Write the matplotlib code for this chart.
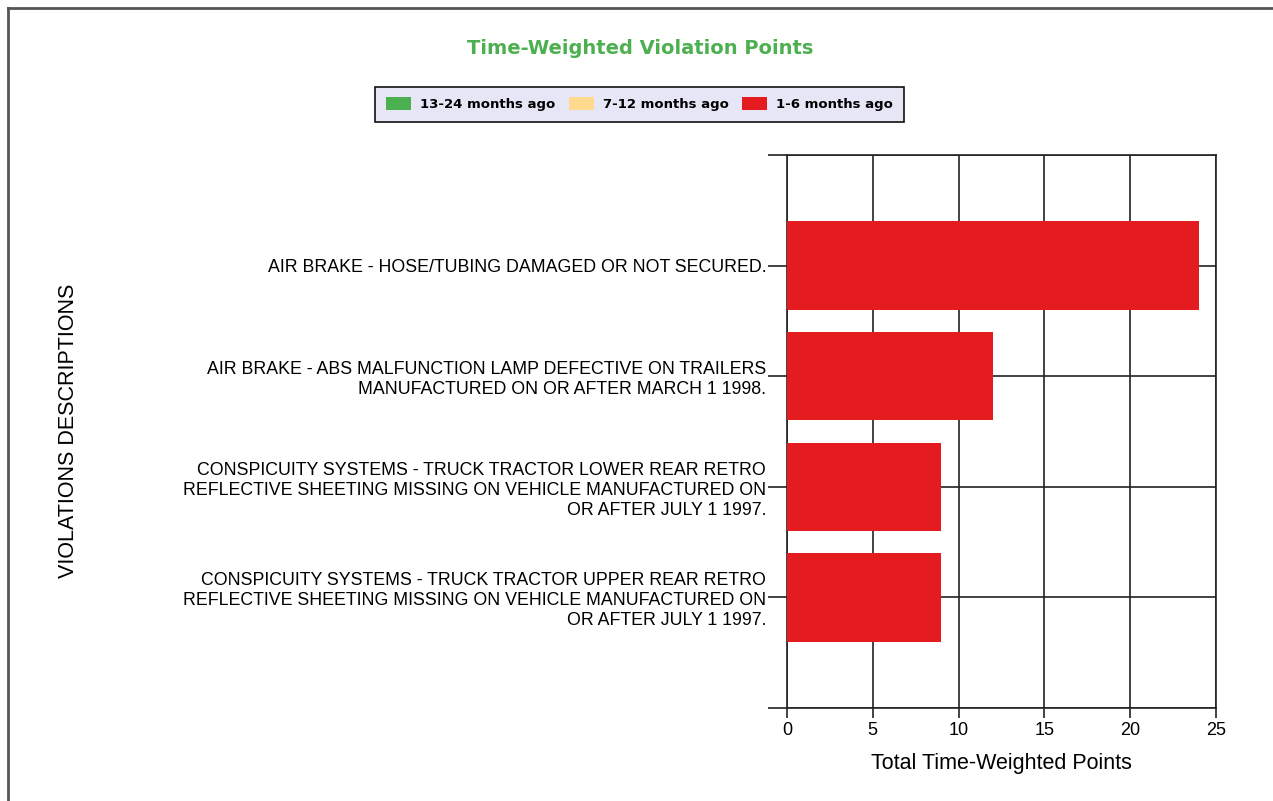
import matplotlib.pyplot as plt
import numpy as np
from matplotlib.lines import Line2D

# violation descriptions, top to bottom
labels = [
    "AIR BRAKE - HOSE/TUBING DAMAGED OR NOT SECURED.",
    "AIR BRAKE - ABS MALFUNCTION LAMP DEFECTIVE ON TRAILERS\nMANUFACTURED ON OR AFTER MARCH 1 1998.",
    "CONSPICUITY SYSTEMS - TRUCK TRACTOR LOWER REAR RETRO\nREFLECTIVE SHEETING MISSING ON VEHICLE MANUFACTURED ON\nOR AFTER JULY 1 1997.",
    "CONSPICUITY SYSTEMS - TRUCK TRACTOR UPPER REAR RETRO\nREFLECTIVE SHEETING MISSING ON VEHICLE MANUFACTURED ON\nOR AFTER JULY 1 1997.",
]
series_names = ["13-24 months ago", "7-12 months ago", "1-6 months ago"]
pts_13_24 = [0, 0, 0, 0]
pts_7_12 = [0, 0, 0, 0]
pts_1_6 = [24, 12, 9, 9]
colors = ["#4caf50", "#ffd98e", "#e51c1f"]

xticks = [0, 5, 10, 15, 20, 25]

fig = plt.figure(figsize=(12.73, 8.01), dpi=100)
ax = fig.add_axes([0.6182, 0.1161, 0.3370, 0.6904])

y = np.arange(len(labels))
left = np.zeros(len(labels))
for name, vals, c in zip(series_names, [pts_13_24, pts_7_12, pts_1_6], colors):
    vals = np.array(vals, dtype=float)
    ax.barh(y, vals, left=left, height=0.8, color=c, label=name, zorder=3)
    left += vals

ax.set_ylim(len(labels), -1)
ax.set_xlim(0, 25)
ax.set_xticks(xticks)
ax.set_xticklabels([str(t) for t in xticks], fontsize=13, family="Liberation Sans")
ax.set_yticks(np.arange(-1, len(labels) + 1))
ax.set_yticklabels([""] + labels + [""], fontsize=12.8, family="Liberation Sans",
                   linespacing=1.22)
ax.tick_params(axis="both", width=1.2, color="#222222")
ax.tick_params(axis="y", length=14, pad=1)
ax.tick_params(axis="x", length=7, pad=3)
ax.grid(True, color="#222222", linewidth=1.2, zorder=0)
for s in ax.spines.values():
    s.set_color("#222222")
    s.set_linewidth(1.2)

ax.set_xlabel("Total Time-Weighted Points", fontsize=15.5, family="Liberation Sans",
              labelpad=10)
fig.text(0.054, 0.462, "VIOLATIONS DESCRIPTIONS", rotation=90, fontsize=15.5,
         family="Liberation Sans", ha="center", va="center")

fig.text(0.503, 0.940, "Time-Weighted Violation Points", fontsize=14,
         fontweight="bold", color="#4caf50", ha="center", va="center",
         family="DejaVu Sans")

leg = fig.legend(loc="center", bbox_to_anchor=(0.5025, 0.870), ncol=3,
                 frameon=True, fancybox=False, facecolor="#e6e6f7",
                 edgecolor="#111111", handlelength=1.9,
                 handleheight=1.1, columnspacing=1.0, borderpad=0.8,
                 handletextpad=0.7, prop={"family": "DejaVu Sans", "size": 9.5, "weight": "bold"})
leg.get_frame().set_linewidth(1.2)
leg.get_frame().set_alpha(1)

# page border (top and left)
fig.add_artist(Line2D([0.0063, 1.0], [0.990, 0.990], color="#555555", linewidth=2,
                      transform=fig.transFigure))
fig.add_artist(Line2D([0.0063, 0.0063], [0.0, 0.990], color="#555555", linewidth=2,
                      transform=fig.transFigure))

fig.savefig("out.png", dpi=100)
